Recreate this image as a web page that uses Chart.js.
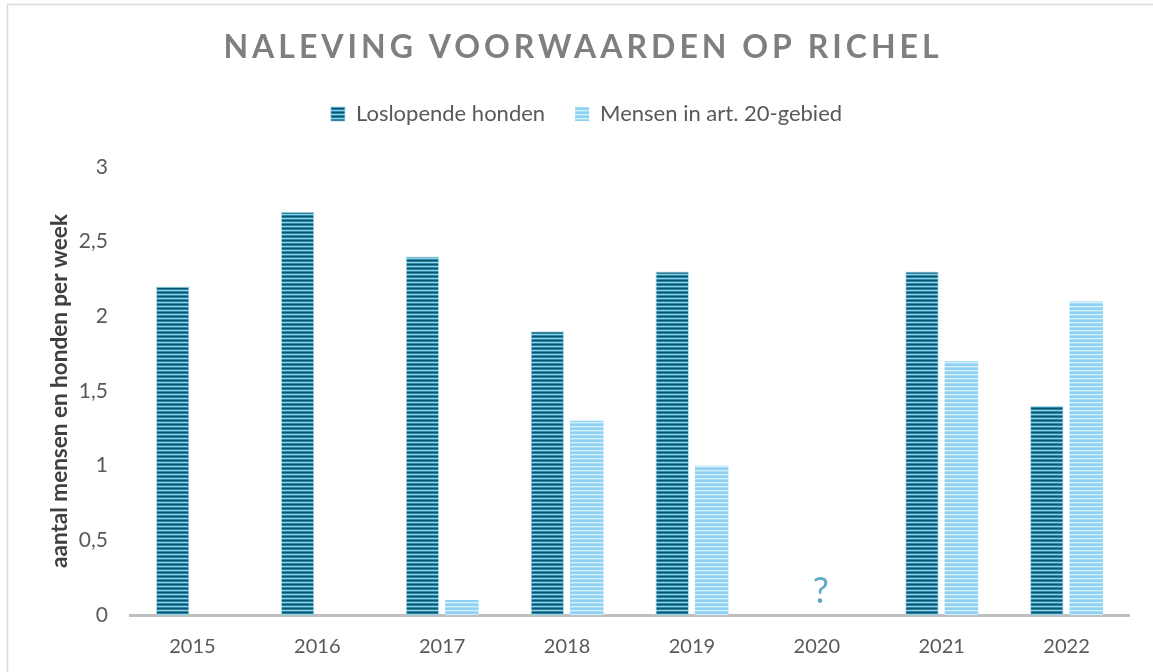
<!DOCTYPE html>
<html lang="nl">
<head>
<meta charset="utf-8">
<title>Naleving voorwaarden op Richel</title>
<script src="https://cdn.jsdelivr.net/npm/chart.js@4.4.1/dist/chart.umd.min.js"></script>
<style>
  html, body { margin: 0; padding: 0; background: #ffffff; overflow: hidden; }
  #wrap { position: relative; width: 1153px; height: 672px; }
  #richel-chart { display: block; }
</style>
</head>
<body>
<div id="wrap"><canvas id="richel-chart" width="1153" height="672"></canvas></div>
<script>
(function () {
  'use strict';

  var TITLE      = 'NALEVING VOORWAARDEN OP RICHEL';
  var AXIS_TITLE = 'aantal mensen en honden per week';
  var YEARS      = ['2015', '2016', '2017', '2018', '2019', '2020', '2021', '2022'];
  var HONDEN     = [2.2, 2.7, 2.4, 1.9, 2.3, null, 2.3, 1.4];
  var MENSEN     = [0, 0, 0.1, 1.3, 1.0, null, 1.7, 2.1];
  var Y_TICKS    = ['0', '0,5', '1', '1,5', '2', '2,5', '3'];
  var NO_DATA    = { year: '2020', text: '?' };

  var FONT = "Lato, 'Noto Sans', sans-serif";

  // horizontal stripe fill, one colour per pixel row
  function stripes(rows) {
    var c = document.createElement('canvas');
    c.width = 4;
    c.height = rows.length;
    var g = c.getContext('2d');
    rows.forEach(function (col, i) {
      g.fillStyle = col;
      g.fillRect(0, i, 4, 1);
    });
    return g.createPattern(c, 'repeat');
  }

  var darkFill  = stripes(['#0a546d', '#2a82a0', '#8ad3ea', '#2f89a7']);
  var lightFill = stripes(['#8ccff2', '#92d3f4', '#d2effc', '#a9ddf7']);

  // outer frame + spaced-out title, extra room under the legend
  var framePlugin = {
    id: 'frameAndTitle',
    afterInit: function (chart) {
      var legend = chart.legend;
      if (!legend) return;
      var fit = legend.fit;
      legend.fit = function () {
        fit.call(this);
        this.height += 32;
      };
    },
    beforeDraw: function (chart) {
      var ctx = chart.ctx;
      ctx.save();
      ctx.strokeStyle = '#d9d9d9';
      ctx.lineWidth = 1.5;
      ctx.strokeRect(7.5, 4.5, 1200, 700);
      ctx.restore();
    },
    afterDraw: function (chart) {
      var ctx = chart.ctx;
      ctx.save();
      ctx.font = 'bold 32px ' + FONT;
      ctx.fillStyle = '#7f7f7f';
      ctx.textAlign = 'center';
      ctx.textBaseline = 'middle';
      ctx.letterSpacing = '4px';
      ctx.fillText(TITLE, 583, 48);
      ctx.restore();
    }
  };

  // "?" over the year without data
  var noDataPlugin = {
    id: 'noData',
    afterDatasetsDraw: function (chart) {
      var idx = YEARS.indexOf(NO_DATA.year);
      if (idx < 0) return;
      var x = chart.scales.x.getPixelForValue(idx);
      var y = chart.scales.y.getPixelForValue(0);
      var ctx = chart.ctx;
      ctx.save();
      ctx.font = '36px ' + FONT;
      ctx.fillStyle = '#5fa9c6';
      ctx.textAlign = 'center';
      ctx.textBaseline = 'alphabetic';
      ctx.fillText(NO_DATA.text, x + 4, y - 12);
      ctx.restore();
    }
  };

  var canvas = document.getElementById('richel-chart');

  new Chart(canvas, {
    type: 'bar',
    data: {
      labels: YEARS,
      datasets: [
        {
          label: 'Loslopende honden',
          data: HONDEN,
          backgroundColor: darkFill,
          borderColor: 'rgba(150,210,232,0.7)',
          borderWidth: 1,
          categoryPercentage: 0.632,
          barPercentage: 0.85
        },
        {
          label: 'Mensen in art. 20-gebied',
          data: MENSEN,
          backgroundColor: lightFill,
          borderWidth: 0,
          categoryPercentage: 0.632,
          barPercentage: 0.85
        }
      ]
    },
    options: {
      responsive: false,
      animation: false,
      layout: { padding: { top: 73, left: 44, right: 24, bottom: 0 } },
      plugins: {
        title: { display: false },
        tooltip: { enabled: false },
        legend: {
          position: 'top',
          labels: {
            color: '#595959',
            font: { family: FONT, size: 22 },
            boxWidth: 14,
            boxHeight: 14,
            padding: 30
          }
        }
      },
      scales: {
        x: {
          grid: { display: false, drawTicks: false, tickLength: 0 },
          border: { display: true, color: '#bfbfbf', width: 3 },
          ticks: {
            color: '#595959',
            font: { family: FONT, size: 20 },
            padding: 20,
            maxRotation: 0
          },
          afterFit: function (s) { s.height = 57; }
        },
        y: {
          min: 0,
          max: 3,
          grid: { display: false, drawTicks: false, tickLength: 0 },
          border: { display: false },
          ticks: {
            stepSize: 0.5,
            color: '#595959',
            font: { family: FONT, size: 21 },
            padding: 22,
            callback: function (v, i) { return Y_TICKS[i]; }
          },
          title: {
            display: true,
            text: AXIS_TITLE,
            color: '#404040',
            font: { family: FONT, size: 22.5, weight: 'bold' },
            padding: { top: 2, bottom: 0 }
          },
          afterFit: function (s) { s.width = 86; }
        }
      }
    },
    plugins: [framePlugin, noDataPlugin]
  });
})();
</script>
</body>
</html>
